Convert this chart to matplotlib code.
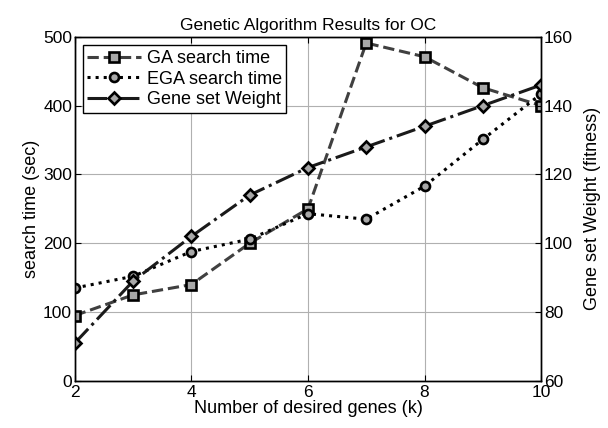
import matplotlib
matplotlib.use("Agg")
import matplotlib.pyplot as plt

plt.rcParams['font.family'] = ['Liberation Sans', 'DejaVu Sans']

k = [2, 3, 4, 5, 6, 7, 8, 9, 10]
ga_time = [95, 125, 140, 200, 250, 491, 471, 426, 400]
ega_time = [135, 152, 188, 206, 243, 235, 283, 351, 417]
gene_weight = [71, 89, 102, 114, 122, 128, 134, 140, 146]

fig = plt.figure(figsize=(6.08, 4.28), dpi=100)
ax1 = fig.add_axes([0.123, 0.11, 0.767, 0.804])
ax2 = ax1.twinx()

mk = dict(markersize=6.5, markeredgecolor='black', markerfacecolor='#a8a8a8', markeredgewidth=1.9)
l1, = ax1.plot(k, ga_time, linestyle='--', color='#404040', linewidth=2.2, marker='s',
               label='GA search time', **mk)
l2, = ax1.plot(k, ega_time, linestyle=':', color='black', linewidth=2.2, marker='o',
               label='EGA search time', **mk)
l3, = ax2.plot(k, gene_weight, linestyle='-.', color='#1a1a1a', linewidth=2.2, marker='D',
               label='Gene set Weight', markersize=6, markeredgecolor='black',
               markerfacecolor='#a8a8a8', markeredgewidth=1.9)

ax1.set_xlim(2, 10)
ax1.set_ylim(0, 500)
ax2.set_ylim(60, 160)
ax1.set_xticks([2, 4, 6, 8, 10])
ax1.set_yticks([0, 100, 200, 300, 400, 500])
ax2.set_yticks([60, 80, 100, 120, 140, 160])
ax1.grid(True, color='#b0b0b0', linewidth=0.8)
ax1.set_axisbelow(True)

for ax in (ax1, ax2):
    ax.tick_params(direction='in', length=4, labelsize=12.5, width=0.8, pad=2)
    for s in ax.spines.values():
        s.set_linewidth(1.0)
ax1.tick_params(top=True, right=False)
ax1.tick_params(axis='x', pad=3)
ax2.tick_params(left=False, right=True, top=False)

ax1.set_xlabel('Number of desired genes (k)', fontsize=13, labelpad=0)
ax1.set_ylabel('search time (sec)', fontsize=13, labelpad=2)
ax2.set_ylabel('Gene set Weight (fitness)', fontsize=13, labelpad=8)
ax1.set_title('Genetic Algorithm Results for OC', fontsize=12.5, pad=5)

leg = ax2.legend(handles=[l1, l2, l3], loc='upper left', bbox_to_anchor=(0.017, 0.975),
                 fontsize=13, fancybox=False, framealpha=1, edgecolor='black',
                 handlelength=3.0, borderpad=0.25, labelspacing=0.2, handletextpad=0.3,
                 borderaxespad=0)
leg.get_frame().set_linewidth(1.0)

fig.savefig('out.png', dpi=100)
